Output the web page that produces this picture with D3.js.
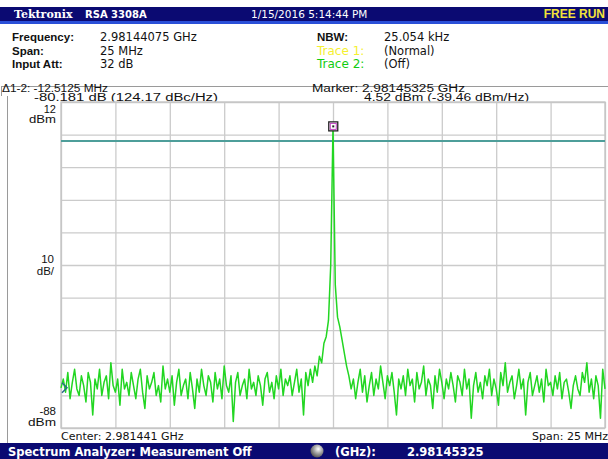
<!DOCTYPE html>
<html><head><meta charset="utf-8">
<script src="https://cdn.jsdelivr.net/npm/d3@7"></script>
<style>
html,body{margin:0;padding:0;background:#fff;}
svg{display:block;font-family:"DejaVu Sans",Verdana,sans-serif;}
</style></head>
<body><svg id="c" width="608" height="459"></svg>
<script>
// ---- data ----
const centerGHz = 2.981441;
const spanGHz = 0.025;
const yTop = 12, yBottom = -88, dbPerDiv = 10;
const refLevel = 0;
const xDivisions = [0,1,2,3,4,5,6,7,8,9,10];
const yDivisions = [12,2,-8,-18,-28,-38,-48,-58,-68,-78,-88];
const marker1 = {freq: 2.98145325, level: 4.52};
const delta12 = {freq: -0.0125125, level: -80.181};
const traceDbm = [
-75.7,-73,-77,-71,-79,-74,-70,-76,-78,-72,-75,-80,-71,-74,-84,-73,-76,-70,-78,-74,
-72,-79,-68,-75,-77,-73,-81,-70,-76,-74,-78,-71,-75,-79,-73,-70,-77,-82,-72,-76,
-74,-71,-78,-75,-80,-69,-76,-73,-77,-72,-81,-74,-70,-78,-75,-73,-79,-71,-76,-82,
-73,-77,-70,-75,-78,-72,-74,-80,-71,-76,-73,-79,-69,-75,-77,-72,-86,-74,-71,-78,
-75,-73,-79,-70,-76,-74,-78,-72,-75,-81,-73,-71,-77,-74,-79,-72,-76,-70,-78,-73,
-75,-72,-78,-74,-70,-77,-73,-84,-71,-75,
-70,-74,-69,-72,-66,-68,-62,-60,-55,-38,4.52,-44,-54,-57,-61,-65,-69,-72,-76,-73,-79,
-74,-70,-77,-72,-80,-75,-71,-78,-73,-76,-69,-74,-79,-72,-75,-71,-77,-84,-73,-76,
-72,-78,-70,-75,-73,-80,-71,-76,-74,-69,-78,-73,-75,-82,-72,-77,-70,-74,-79,-73,
-76,-71,-75,-80,-72,-74,-78,-70,-76,-73,-85,-75,-71,-77,-74,-79,-72,-75,-70,-78,
-73,-76,-81,-71,-75,-68,-77,-74,-72,-79,-75,-70,-76,-73,-84,-74,-71,-78,-75,-72,
-77,-73,-80,-70,-75,-74,-78,-72,-76,-71,-79,-74,-73,-77,-82,-75,-72,-76,-78,-71,
-74,-68,-77,-73,-79,-72,-75,-85,-70,-76
];

// ---- drawing ----
const svg = d3.select("#c");
const L = 61, R = 605, T = 102, B = 428;
const f0 = centerGHz - spanGHz/2, f1 = centerGHz + spanGHz/2;
const x = d3.scaleLinear().domain([f0, f1]).range([L, R]);
const y = d3.scaleLinear().domain([yBottom, yTop]).range([B, T]);
const N = traceDbm.length;
const freqs = traceDbm.map((v,i) => f0 + i*spanGHz/(N-1));
const ARIAL = "'Liberation Sans',Arial,sans-serif";

function txt(xp, yp, s, opts={}) {
  const t = svg.append("text").attr("x",xp).attr("y",yp).attr("font-size",opts.size||11.5)
    .attr("fill",opts.fill||"#111").attr("font-weight",opts.bold?"bold":"normal")
    .attr("text-anchor",opts.anchor||"start").text(s);
  if (opts.family) t.attr("font-family", opts.family);
  if (opts.len) t.attr("textLength", opts.len).attr("lengthAdjust","spacingAndGlyphs");
  return t;
}

// title bar
svg.append("rect").attr("x",0).attr("y",7).attr("width",608).attr("height",15).attr("fill","#0b0a72");
svg.append("rect").attr("x",0).attr("y",21).attr("width",608).attr("height",3).attr("fill","#2a4fd8");
txt(14,18,"Tektronix",{size:11,bold:true,fill:"#fff",family:"'DejaVu Serif',serif"});
txt(85,18,"RSA 3308A",{size:10,bold:true,fill:"#fff"});
txt(251,18,"1/15/2016 5:14:44 PM",{size:10.5,fill:"#fff"});
txt(605,18,"FREE RUN",{size:12,bold:true,fill:"#f2e23a",anchor:"end",family:ARIAL});

// info block
txt(12,41,"Frequency:",{bold:true,family:ARIAL}); txt(100,41,"2.98144075 GHz");
txt(12,54.5,"Span:",{bold:true,family:ARIAL}); txt(100,54.5,"25 MHz");
txt(12,68,"Input Att:",{bold:true,family:ARIAL}); txt(100,68,"32 dB");
txt(317,41,"NBW:",{bold:true,family:ARIAL}); txt(384,41,"25.054 kHz");
txt(317,54.5,"Trace 1:",{fill:"#f5f030",size:12}); txt(384,54.5,"(Normal)");
txt(317,68,"Trace 2:",{fill:"#11cc11",size:12}); txt(384,68,"(Off)");

// panel borders
svg.append("line").attr("x1",1).attr("x2",608).attr("y1",86.5).attr("y2",86.5).attr("stroke","#9a9a9a");
svg.append("line").attr("x1",1.5).attr("x2",1.5).attr("y1",86).attr("y2",96).attr("stroke","#9a9a9a");
svg.append("line").attr("x1",7.5).attr("x2",7.5).attr("y1",96).attr("y2",443).attr("stroke","#9a9a9a");

txt(2,91.5,"\u03941-2: -12.5125 MHz",{size:10,family:ARIAL,len:106});
txt(34,101,"-80.181 dB (124.17 dBc/Hz)",{size:10,family:ARIAL,len:184});
txt(312,91.5,"Marker: 2.98145325 GHz",{size:10,family:ARIAL,len:153});
txt(364,101,"4.52 dBm (-39.46 dBm/Hz)",{size:10,family:ARIAL,len:165});

// grid via axes
const xTicks = xDivisions.map(d => f0 + d*spanGHz/10);
const gx = svg.append("g").attr("transform",`translate(0,${T})`)
  .call(d3.axisBottom(x).tickValues(xTicks).tickSize(B-T).tickFormat(""));
gx.select(".domain").remove();
gx.selectAll("line").attr("stroke","#cbcbcb").attr("stroke-width",1.3);
const gy = svg.append("g").attr("transform",`translate(${L},0)`)
  .call(d3.axisRight(y).tickValues(yDivisions).tickSize(R-L).tickFormat(""));
gy.select(".domain").remove();
gy.selectAll("line").attr("stroke","#cbcbcb").attr("stroke-width",1.3);
svg.append("rect").attr("x",L).attr("y",T).attr("width",R-L).attr("height",B-T)
  .attr("fill","none").attr("stroke","#c4c4c4").attr("stroke-width",1.3);

// y labels
txt(56,112.5,"12",{size:11,anchor:"end",family:ARIAL}); txt(56,123,"dBm",{size:11,anchor:"end",family:ARIAL,len:27});
txt(54,263,"10",{size:11.5,anchor:"end",family:ARIAL}); txt(54,275,"dB/",{size:11.5,anchor:"end",family:ARIAL});
txt(56,415,"-88",{size:11.5,anchor:"end",family:ARIAL}); txt(56,426,"dBm",{size:11.5,anchor:"end",family:ARIAL,len:28});
txt(61,439.5,"Center: 2.981441 GHz",{size:11});
txt(608,439.5,"Span: 25 MHz",{size:11,anchor:"end"});

// reference line
svg.append("line").attr("x1",L).attr("x2",R).attr("y1",y(refLevel)).attr("y2",y(refLevel))
  .attr("stroke","#4e9e9a").attr("stroke-width",2);

// trace
const line = d3.line().x((d,i)=>x(freqs[i])).y(d=>y(d));
svg.append("path").datum(traceDbm).attr("d",line).attr("fill","none")
  .attr("stroke","#22d622").attr("stroke-width",1.5).attr("stroke-linejoin","round");

// markers
const mx = x(marker1.freq), my = y(marker1.level);
svg.append("rect").attr("x",mx-4.5).attr("y",my-4.5).attr("width",9).attr("height",9)
  .attr("fill","#fff").attr("stroke","#222").attr("stroke-width",1.3);
svg.append("rect").attr("x",mx-3).attr("y",my-3).attr("width",6).attr("height",6)
  .attr("fill","none").attr("stroke","#c040c0").attr("stroke-width",1);
svg.append("rect").attr("x",mx-1).attr("y",my-1).attr("width",2).attr("height",2).attr("fill","#222");
const m2x = x(marker1.freq + delta12.freq), m2y = y(marker1.level + delta12.level);
svg.append("path").attr("d",`M${m2x+1},${m2y-5} L${m2x+6},${m2y} L${m2x+1},${m2y+5}`)
  .attr("fill","none").attr("stroke","#2a6a8a").attr("stroke-width",1.5);

// bottom status bar
svg.append("rect").attr("x",0).attr("y",443).attr("width",608).attr("height",16).attr("fill","#0b0a72");
txt(8,456,"Spectrum Analyzer: Measurement Off",{size:11.5,bold:true,fill:"#fff"});
const grad = svg.append("defs").append("radialGradient").attr("id","knob").attr("cx","60%").attr("cy","35%").attr("r","70%");
grad.append("stop").attr("offset","0%").attr("stop-color","#ffffff");
grad.append("stop").attr("offset","45%").attr("stop-color","#a8a8a8");
grad.append("stop").attr("offset","100%").attr("stop-color","#4a4a4a");
svg.append("circle").attr("cx",317).attr("cy",451).attr("r",6.5).attr("fill","url(#knob)");
txt(335,456,"(GHz):",{size:11.5,bold:true,fill:"#fff"});
txt(407,456,"2.98145325",{size:11.5,bold:true,fill:"#fff"});
</script></body></html>
